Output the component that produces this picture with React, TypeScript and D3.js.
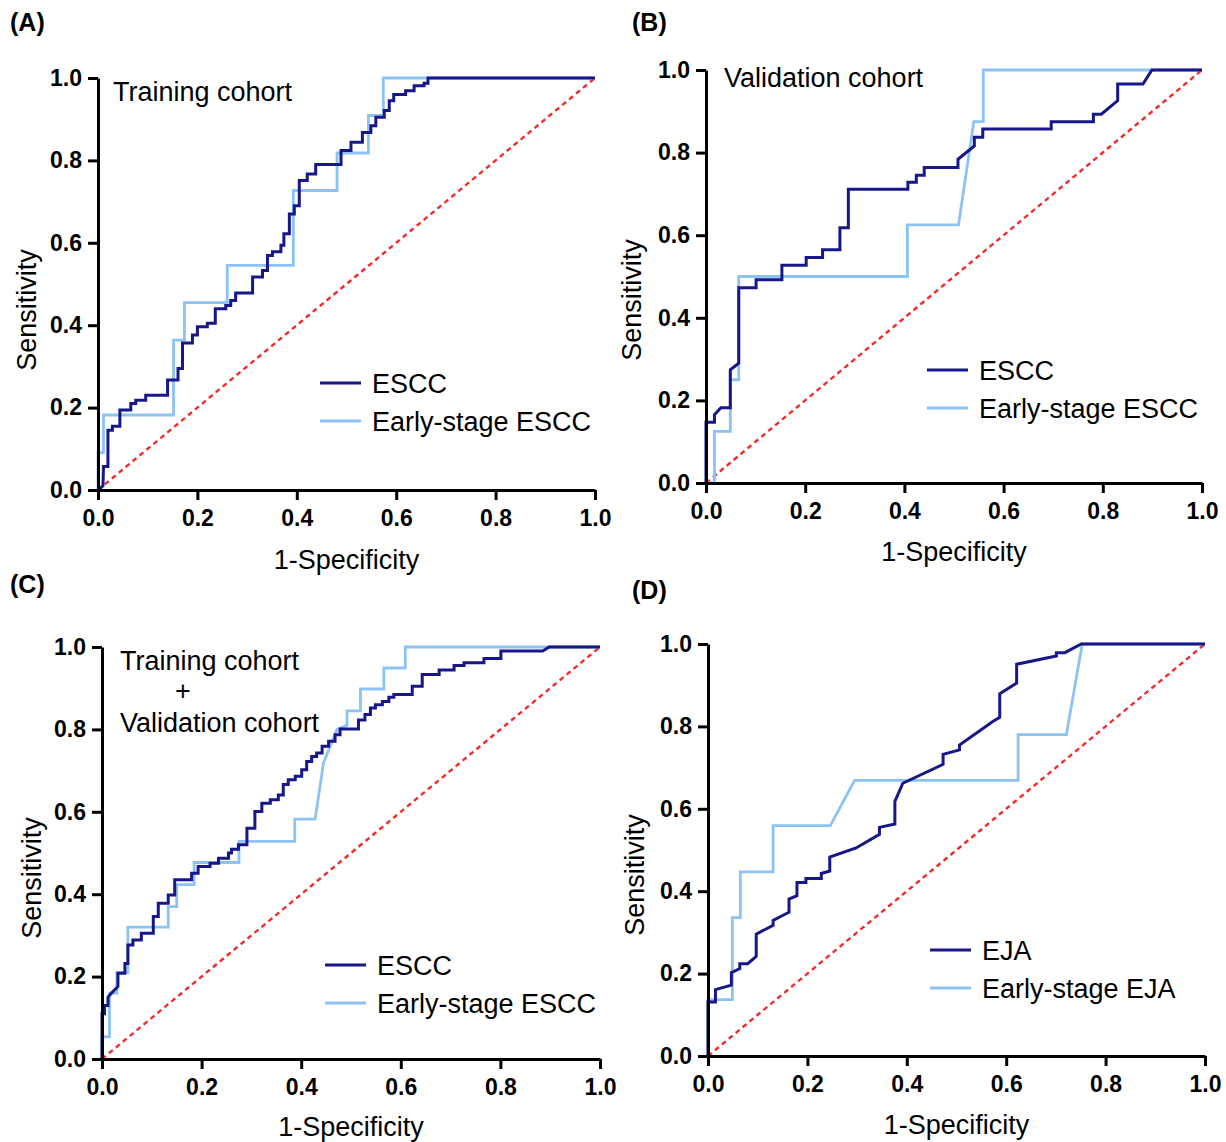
import { useRef, useEffect } from 'react';
import * as d3 from 'd3';

type Pt = [number, number];

const tickValues = [0, 0.2, 0.4, 0.6, 0.8, 1.0];

// (A) Training cohort
const escA: Pt[] = [[0,0],[0.01,0.01],[0.011,0.057],[0.02,0.057],[0.02,0.145],[0.029,0.145],[0.029,0.155],[0.044,0.155],[0.044,0.194],[0.066,0.194],[0.066,0.21],[0.076,0.21],[0.076,0.218],[0.096,0.218],[0.096,0.23],[0.14,0.23],[0.14,0.267],[0.161,0.267],[0.161,0.295],[0.17,0.295],[0.17,0.357],[0.19,0.357],[0.19,0.376],[0.2,0.376],[0.2,0.396],[0.22,0.396],[0.22,0.405],[0.236,0.405],[0.236,0.44],[0.257,0.44],[0.257,0.448],[0.267,0.448],[0.267,0.46],[0.277,0.46],[0.277,0.478],[0.311,0.478],[0.311,0.517],[0.331,0.517],[0.331,0.533],[0.341,0.533],[0.341,0.569],[0.351,0.569],[0.351,0.578],[0.368,0.578],[0.368,0.594],[0.374,0.594],[0.374,0.622],[0.385,0.622],[0.385,0.67],[0.395,0.67],[0.395,0.69],[0.405,0.69],[0.405,0.751],[0.421,0.751],[0.421,0.767],[0.438,0.767],[0.438,0.79],[0.489,0.79],[0.489,0.824],[0.509,0.824],[0.509,0.844],[0.532,0.844],[0.532,0.868],[0.549,0.868],[0.549,0.884],[0.559,0.884],[0.559,0.905],[0.576,0.905],[0.576,0.921],[0.586,0.921],[0.586,0.945],[0.595,0.945],[0.595,0.96],[0.619,0.96],[0.619,0.969],[0.636,0.969],[0.636,0.981],[0.656,0.981],[0.656,0.987],[0.664,0.987],[0.664,1],[1,1]];
const earlyA: Pt[] = [[0,0],[0,0.091],[0.011,0.091],[0.011,0.182],[0.152,0.182],[0.152,0.364],[0.174,0.364],[0.174,0.455],[0.26,0.455],[0.26,0.545],[0.393,0.545],[0.393,0.727],[0.481,0.727],[0.481,0.818],[0.544,0.818],[0.544,0.909],[0.574,0.909],[0.574,1],[1,1]];

// (B) Validation cohort
const escB: Pt[] = [[0,0],[0,0.147],[0.017,0.147],[0.017,0.165],[0.03,0.182],[0.049,0.182],[0.049,0.274],[0.066,0.29],[0.066,0.473],[0.101,0.473],[0.101,0.492],[0.153,0.492],[0.153,0.527],[0.202,0.527],[0.202,0.546],[0.235,0.546],[0.235,0.565],[0.27,0.565],[0.27,0.618],[0.287,0.618],[0.287,0.711],[0.407,0.711],[0.407,0.728],[0.424,0.728],[0.424,0.745],[0.44,0.745],[0.44,0.764],[0.508,0.764],[0.508,0.784],[0.541,0.816],[0.541,0.837],[0.558,0.837],[0.558,0.857],[0.696,0.857],[0.696,0.875],[0.781,0.875],[0.781,0.893],[0.797,0.893],[0.83,0.926],[0.83,0.966],[0.881,0.966],[0.899,1],[1,1]];
const earlyB: Pt[] = [[0,0],[0.017,0],[0.017,0.125],[0.049,0.125],[0.049,0.25],[0.066,0.25],[0.066,0.5],[0.406,0.5],[0.406,0.625],[0.509,0.625],[0.54,0.875],[0.559,0.875],[0.559,1],[1,1]];

// (C) Training + Validation
const escC: Pt[] = [[0,0],[0,0.11],[0.005,0.11],[0.005,0.13],[0.012,0.13],[0.012,0.15],[0.019,0.16],[0.032,0.176],[0.032,0.208],[0.046,0.208],[0.046,0.232],[0.052,0.232],[0.052,0.277],[0.062,0.277],[0.062,0.289],[0.079,0.289],[0.079,0.305],[0.103,0.305],[0.103,0.346],[0.113,0.346],[0.113,0.378],[0.133,0.378],[0.133,0.398],[0.146,0.398],[0.146,0.435],[0.18,0.435],[0.18,0.451],[0.193,0.451],[0.193,0.467],[0.217,0.467],[0.217,0.475],[0.234,0.475],[0.234,0.487],[0.254,0.487],[0.254,0.5],[0.26,0.5],[0.26,0.509],[0.274,0.509],[0.274,0.52],[0.291,0.52],[0.291,0.56],[0.307,0.56],[0.307,0.601],[0.321,0.601],[0.321,0.621],[0.338,0.621],[0.338,0.629],[0.354,0.629],[0.354,0.641],[0.364,0.641],[0.364,0.666],[0.374,0.666],[0.374,0.678],[0.388,0.678],[0.388,0.686],[0.401,0.686],[0.401,0.702],[0.411,0.702],[0.411,0.722],[0.421,0.722],[0.421,0.734],[0.431,0.734],[0.431,0.743],[0.442,0.743],[0.442,0.759],[0.455,0.759],[0.455,0.771],[0.468,0.771],[0.468,0.787],[0.478,0.787],[0.478,0.801],[0.515,0.801],[0.515,0.823],[0.528,0.823],[0.528,0.836],[0.539,0.836],[0.539,0.852],[0.549,0.852],[0.549,0.86],[0.563,0.86],[0.563,0.868],[0.576,0.868],[0.576,0.878],[0.586,0.878],[0.586,0.885],[0.623,0.885],[0.623,0.905],[0.643,0.905],[0.643,0.933],[0.677,0.933],[0.677,0.944],[0.707,0.944],[0.707,0.955],[0.727,0.955],[0.727,0.962],[0.767,0.962],[0.767,0.972],[0.801,0.972],[0.801,0.99],[0.885,0.99],[0.898,1],[1,1]];
const earlyC: Pt[] = [[0,0],[0,0.054],[0.015,0.054],[0.015,0.16],[0.03,0.16],[0.03,0.21],[0.052,0.21],[0.052,0.32],[0.133,0.32],[0.133,0.37],[0.15,0.37],[0.15,0.423],[0.185,0.423],[0.185,0.477],[0.275,0.477],[0.275,0.528],[0.387,0.528],[0.387,0.582],[0.428,0.582],[0.445,0.72],[0.472,0.8],[0.492,0.81],[0.492,0.845],[0.519,0.845],[0.519,0.898],[0.566,0.898],[0.566,0.949],[0.609,0.949],[0.609,1],[1,1]];

// (D) EJA
const ejaD: Pt[] = [[0,0],[0,0.131],[0.015,0.131],[0.015,0.161],[0.047,0.172],[0.047,0.202],[0.064,0.212],[0.064,0.224],[0.08,0.224],[0.097,0.242],[0.097,0.296],[0.131,0.317],[0.131,0.329],[0.163,0.349],[0.163,0.381],[0.179,0.389],[0.179,0.421],[0.197,0.421],[0.197,0.431],[0.228,0.431],[0.228,0.443],[0.245,0.449],[0.245,0.483],[0.298,0.505],[0.345,0.538],[0.345,0.555],[0.376,0.563],[0.376,0.618],[0.392,0.662],[0.473,0.708],[0.473,0.732],[0.506,0.743],[0.506,0.755],[0.573,0.812],[0.587,0.822],[0.587,0.879],[0.621,0.905],[0.621,0.951],[0.701,0.971],[0.701,0.979],[0.718,0.979],[0.751,1],[1,1]];
const earlyD: Pt[] = [[0,0],[0,0.137],[0.049,0.137],[0.049,0.336],[0.065,0.336],[0.065,0.447],[0.131,0.447],[0.131,0.559],[0.246,0.559],[0.295,0.669],[0.624,0.669],[0.624,0.78],[0.721,0.78],[0.753,1],[1,1]];

const DARK = '#17178a';
const LIGHT = '#8dc2f5';
const RED = '#f42a2a';
const FONT = '"Liberation Sans", Arial, Helvetica, sans-serif';

const panels = [
  { tag: '(A)', tagX: 10, tagY: 31, x0: 98, x1: 595, yTop: 78, yBot: 490, dark: escA, light: earlyA,
    names: ['ESCC', 'Early-stage ESCC'], legX: 320, legY: 383,
    notes: [{ t: 'Training cohort', x: 113, y: 101, a: 'start' }], xtY: 569, ytX: 36, ytY: 310 },
  { tag: '(B)', tagX: 632, tagY: 31, x0: 706, x1: 1202, yTop: 70, yBot: 483, dark: escB, light: earlyB,
    names: ['ESCC', 'Early-stage ESCC'], legX: 927, legY: 370,
    notes: [{ t: 'Validation cohort', x: 724, y: 87, a: 'start' }], xtY: 561, ytX: 641, ytY: 300 },
  { tag: '(C)', tagX: 10, tagY: 593, x0: 102, x1: 600, yTop: 647, yBot: 1059, dark: escC, light: earlyC,
    names: ['ESCC', 'Early-stage ESCC'], legX: 325, legY: 965,
    notes: [{ t: 'Training cohort', x: 120, y: 670, a: 'start' }, { t: '+', x: 183, y: 700, a: 'middle' }, { t: 'Validation cohort', x: 120, y: 732, a: 'start' }],
    xtY: 1136, ytX: 41, ytY: 878 },
  { tag: '(D)', tagX: 632, tagY: 599, x0: 708, x1: 1205, yTop: 644, yBot: 1056, dark: ejaD, light: earlyD,
    names: ['EJA', 'Early-stage EJA'], legX: 930, legY: 950,
    notes: [], xtY: 1134, ytX: 644, ytY: 875 },
];

export default function App() {
  const svgRef = useRef<SVGSVGElement>(null);

  useEffect(() => {
    const svg = d3.select(svgRef.current);
    svg.selectAll('*').remove();

    panels.forEach(p => {
      const x = d3.scaleLinear().domain([0, 1]).range([p.x0, p.x1]);
      const y = d3.scaleLinear().domain([0, 1]).range([p.yBot, p.yTop]);
      const g = svg.append('g');

      // reference line
      g.append('line')
        .attr('x1', x(0)).attr('y1', y(0)).attr('x2', x(1)).attr('y2', y(1))
        .attr('stroke', RED).attr('stroke-width', 2.4).attr('stroke-dasharray', '5,4');

      const line = d3.line<Pt>().x(d => x(d[0])).y(d => y(d[1]));
      g.append('path').attr('d', line(p.light)).attr('fill', 'none')
        .attr('stroke', LIGHT).attr('stroke-width', 2.8);
      g.append('path').attr('d', line(p.dark)).attr('fill', 'none')
        .attr('stroke', DARK).attr('stroke-width', 3).attr('stroke-linejoin', 'miter');

      const xAxis = d3.axisBottom(x).tickValues(tickValues).tickFormat(d3.format('.1f'))
        .tickSize(10).tickSizeOuter(0).tickPadding(10);
      const yAxis = d3.axisLeft(y).tickValues(tickValues).tickFormat(d3.format('.1f'))
        .tickSize(10).tickSizeOuter(0).tickPadding(6);

      const gx = g.append('g').attr('transform', `translate(0,${p.yBot})`).call(xAxis);
      const gy = g.append('g').attr('transform', `translate(${p.x0},0)`).call(yAxis);
      [gx, gy].forEach(a => {
        a.selectAll('path, line').attr('stroke', '#000').attr('stroke-width', 3);
        a.selectAll('text').attr('font-family', FONT).attr('font-size', 23)
          .attr('font-weight', 'bold').attr('fill', '#000');
      });

      // axis titles
      g.append('text').attr('x', (p.x0 + p.x1) / 2).attr('y', p.xtY)
        .attr('text-anchor', 'middle').attr('font-family', FONT).attr('font-size', 27)
        .text('1-Specificity');
      g.append('text').attr('transform', `translate(${p.ytX},${p.ytY}) rotate(-90)`)
        .attr('text-anchor', 'middle').attr('font-family', FONT).attr('font-size', 27)
        .text('Sensitivity');

      // panel tag
      svg.append('text').attr('x', p.tagX).attr('y', p.tagY)
        .attr('font-family', FONT).attr('font-size', 25).attr('font-weight', 'bold')
        .text(p.tag);

      p.notes.forEach(n => {
        g.append('text').attr('x', n.x).attr('y', n.y).attr('text-anchor', n.a)
          .attr('font-family', FONT).attr('font-size', 27).text(n.t);
      });

      // legend
      [DARK, LIGHT].forEach((c, i) => {
        const ly = p.legY + i * 38;
        g.append('line').attr('x1', p.legX).attr('x2', p.legX + 41)
          .attr('y1', ly).attr('y2', ly).attr('stroke', c).attr('stroke-width', i ? 2.8 : 3);
        g.append('text').attr('x', p.legX + 52).attr('y', ly + 10)
          .attr('font-family', FONT).attr('font-size', 27).text(p.names[i]);
      });
    });
  }, []);

  return (
    <svg ref={svgRef} width={1226} height={1142}
      style={{ position: 'absolute', left: 0, top: 0, background: '#fff' }} />
  );
}
